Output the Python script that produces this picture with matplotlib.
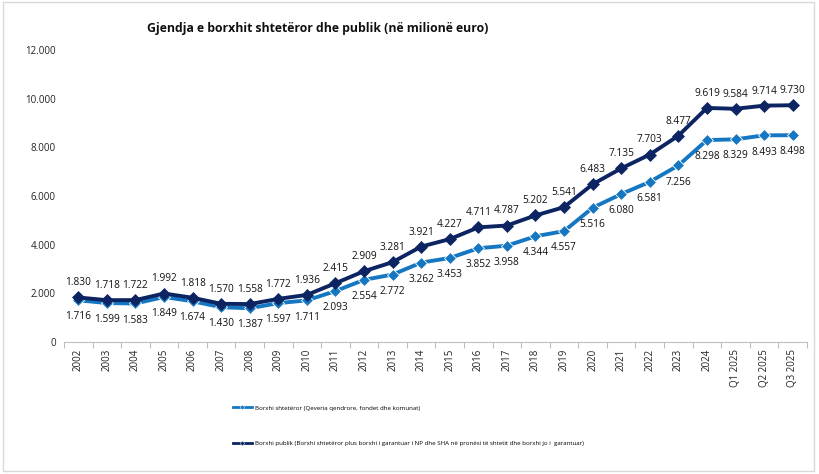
import numpy as np
import matplotlib.pyplot as plt
from matplotlib.patches import Rectangle
from matplotlib.lines import Line2D

plt.rcParams['font.family'] = ['Open Sans', 'DejaVu Sans']

# Categories and series (million euro)
periods = ['2002', '2003', '2004', '2005', '2006', '2007', '2008', '2009', '2010',
           '2011', '2012', '2013', '2014', '2015', '2016', '2017', '2018', '2019',
           '2020', '2021', '2022', '2023', '2024', 'Q1 2025', 'Q2 2025', 'Q3 2025']
state_debt = [1716, 1599, 1583, 1849, 1674, 1430, 1387, 1597, 1711, 2093, 2554, 2772,
              3262, 3453, 3852, 3958, 4344, 4557, 5516, 6080, 6581, 7256, 8298, 8329,
              8493, 8498]
public_debt = [1830, 1718, 1722, 1992, 1818, 1570, 1558, 1772, 1936, 2415, 2909, 3281,
               3921, 4227, 4711, 4787, 5202, 5541, 6483, 7135, 7703, 8477, 9619, 9584,
               9714, 9730]

label_state = 'Borxhi shtetëror (Qeveria qendrore, fondet dhe komunat)'
label_public = ('Borxhi publik (Borxhi shtetëror plus borxhi i garantuar i NP dhe SHA në '
                'pronësi të shtetit dhe borxhi jo i  garantuar)')

light = '#1577c2'
dark = '#0c2461'


def fmt(v):
    return f'{v:,}'.replace(',', '.')


fig = plt.figure(figsize=(8.19, 4.74), dpi=100)
ax = fig.add_axes([0.0781, 0.2785, 0.9072, 0.616])

x = np.arange(len(periods))

ax.plot(x, state_debt, color=light, lw=2.8, marker='D', markersize=6,
        markeredgecolor='white', markeredgewidth=0.6, zorder=3)
ax.plot(x, public_debt, color=dark, lw=2.8, marker='D', markersize=6,
        markeredgecolor=dark, markeredgewidth=0.5, zorder=4)

# value labels: public above, state below
for xi, v in zip(x, public_debt):
    ax.annotate(fmt(v), (xi, v), xytext=(0, 10.5), textcoords='offset points',
                ha='center', va='center', fontsize=7.3, color='#111111')
for xi, v in zip(x, state_debt):
    ax.annotate(fmt(v), (xi, v), xytext=(0, -12), textcoords='offset points',
                ha='center', va='center', fontsize=7.3, color='#111111')

ax.set_xlim(-0.5, len(periods) - 0.5)
ax.set_ylim(0, 12000)
ax.set_yticks(np.arange(0, 12001, 2000))
ax.set_yticklabels([fmt(v) for v in range(0, 12001, 2000)], fontsize=7, color='#222222')
ax.set_xticks(x)
ax.set_xticklabels(periods, rotation=90, fontsize=7, color='#222222')
ax.set_xticks(np.arange(-0.5, len(periods), 1), minor=True)
ax.tick_params(axis='x', which='major', length=0, pad=5)
ax.tick_params(axis='x', which='minor', length=4, color='#bfbfbf', width=0.8)
ax.tick_params(axis='y', length=0, pad=6)

for s in ['top', 'right', 'left']:
    ax.spines[s].set_visible(False)
ax.spines['bottom'].set_color('#bfbfbf')
ax.spines['bottom'].set_linewidth(0.8)

fig.text(0.388, 0.94, 'Gjendja e borxhit shtetëror dhe publik (në milionë euro)',
         ha='center', va='center', fontsize=8.8, fontweight='bold', color='#111111')

handles = [Line2D([], [], color=light, lw=2, marker='D', markersize=2.5,
                  markeredgecolor='white', markeredgewidth=0.3),
           Line2D([], [], color=dark, lw=2, marker='D', markersize=2.5,
                  markeredgecolor='white', markeredgewidth=0.3)]
fig.legend(handles, [label_state, label_public], loc='upper left',
           bbox_to_anchor=(0.284, 0.145), frameon=False, fontsize=4.4,
           labelspacing=5.0, handlelength=3.2, handletextpad=0.5,
           borderaxespad=0, borderpad=0)

fig.patches.append(Rectangle((0.004, 0.006), 0.99, 0.99, transform=fig.transFigure,
                             fill=False, edgecolor='#d9d9d9', lw=1))

fig.savefig('out.png', dpi=100)
